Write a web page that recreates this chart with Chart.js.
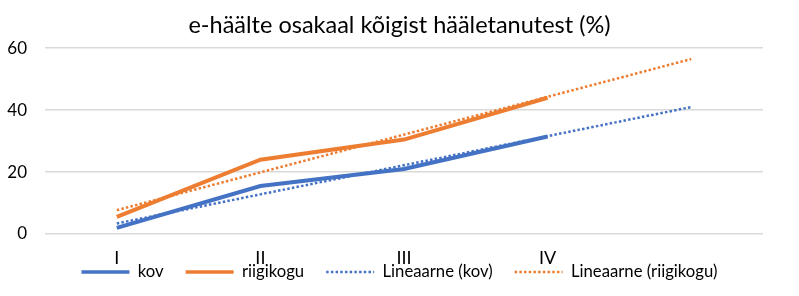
<!DOCTYPE html>
<html>
<head>
<meta charset="utf-8">
<script src="https://cdn.jsdelivr.net/npm/chart.js@4"></script>
<style>
  html, body { margin: 0; padding: 0; background: #fff; }
  #wrap { width: 799px; height: 296px; }
</style>
</head>
<body>
<div id="wrap"><canvas id="myChart"></canvas></div>
<script>
const labels = ['I', 'II', 'III', 'IV', ''];
const kov = [2, 15.5, 21, 31.5, null];
const riigikogu = [5.5, 24, 30.5, 44, null];
// trend lines
const trendKov = [3.4, 12.8, 22.2, 31.6, 41];
const trendRiigikogu = [7.7, 19.9, 32.1, 44.3, 56.5];
const yTicks = [0, 20, 40, 60];

const blue = '#4472C4';
const orange = '#ED7D31';
const font = "Lato, 'Open Sans', sans-serif";

let ctx = document.getElementById('myChart').getContext('2d');

const myChart = new Chart(ctx, {
    type: 'line',
    data: {
        labels: labels,
        datasets: [{
            label: 'kov',
            data: kov,
            borderColor: blue,
            backgroundColor: blue,
            borderWidth: 4,
            order: 2
        },
        {
            label: 'riigikogu',
            data: riigikogu,
            borderColor: orange,
            backgroundColor: orange,
            borderWidth: 4,
            order: 2
        },
        {
            label: 'Lineaarne (kov)',
            data: trendKov,
            borderColor: blue,
            backgroundColor: blue,
            borderWidth: 2.5,
            borderDash: [2.5, 2.2],
            order: 1
        },
        {
            label: 'Lineaarne (riigikogu)',
            data: trendRiigikogu,
            borderColor: orange,
            backgroundColor: orange,
            borderWidth: 2.5,
            borderDash: [2.5, 2.2],
            order: 1
        }]
    },
    options: {
        responsive: true,
        maintainAspectRatio: false,
        animation: false,
        layout: {
            padding: { left: 0, right: 0, top: 11, bottom: 5.65 }
        },
        elements: {
            point: { radius: 0 },
            line: { tension: 0, borderCapStyle: 'butt' }
        },
        plugins: {
            title: {
                display: true,
                text: 'e-häälte osakaal kõigist hääletanutest (%)',
                color: '#000',
                font: { family: font, size: 23.5, weight: 'normal' },
                padding: { top: 0, bottom: 9 }
            },
            legend: {
                position: 'bottom',
                labels: {
                    color: '#000',
                    font: { family: font, size: 16.7 },
                    usePointStyle: true,
                    pointStyle: 'line',
                    pointStyleWidth: 48,
                    padding: 22,
                    generateLabels: (chart) => chart.data.datasets.map((ds, i) => ({
                        text: ds.label,
                        fillStyle: ds.borderColor,
                        strokeStyle: ds.borderColor,
                        lineWidth: ds.borderWidth === 4 ? 3.5 : 2.5,
                        lineDash: ds.borderDash || [],
                        pointStyle: 'line',
                        fontColor: '#000',
                        datasetIndex: i,
                        hidden: false
                    }))
                }
            },
            tooltip: { enabled: false }
        },
        scales: {
            x: {
                offset: true,
                grid: { display: false },
                border: { display: false },
                ticks: {
                    color: '#000',
                    font: { family: font, size: 18 },
                    // mirror turns off label clipping, so the labels can hang
                    // into the legend's top padding like in the original
                    mirror: true,
                    padding: -34.8
                },
                afterFit: (scale) => {
                    scale.height = 7.65;
                    scale.paddingLeft = 0;
                    scale.paddingRight = 0;
                }
            },
            y: {
                min: 0,
                max: 60,
                afterBuildTicks: (axis) => { axis.ticks = yTicks.map(v => ({ value: v })); },
                grid: { color: '#d9d9d9', lineWidth: 1.5, drawTicks: false },
                border: { display: false },
                ticks: {
                    color: '#000',
                    font: { family: font, size: 17 },
                    padding: 18
                },
                afterFit: (scale) => { scale.width = 45; }
            },
            // empty right axis, only keeps the plot off the right edge
            // so the title and legend stay centred on the page
            yRight: {
                position: 'right',
                grid: { display: false },
                border: { display: false },
                ticks: { display: false },
                afterFit: (scale) => { scale.width = 36; }
            }
        }
    }
});
</script>
</body>
</html>
